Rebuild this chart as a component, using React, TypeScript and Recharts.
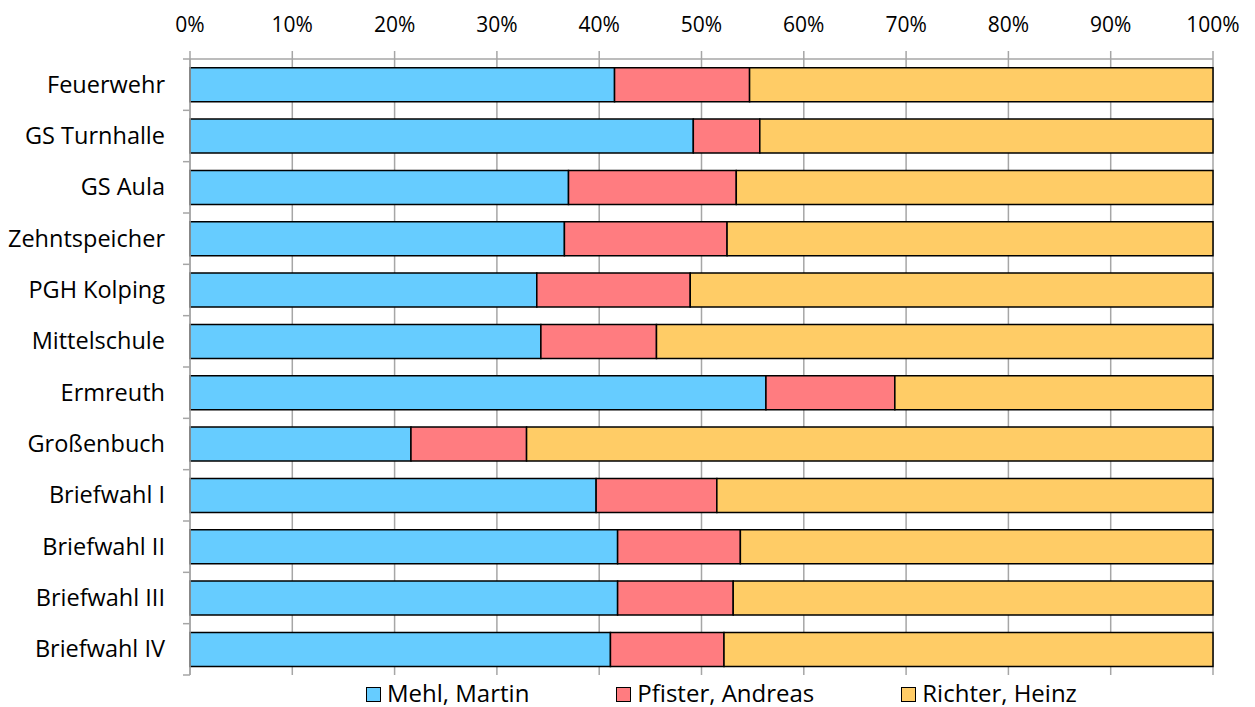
import React from 'react';
import { BarChart, Bar, XAxis, YAxis, CartesianGrid, Legend } from 'recharts';

const categories = [
  'Feuerwehr', 'GS Turnhalle', 'GS Aula', 'Zehntspeicher', 'PGH Kolping', 'Mittelschule',
  'Ermreuth', 'Großenbuch', 'Briefwahl I', 'Briefwahl II', 'Briefwahl III', 'Briefwahl IV',
];
const mehl = [41.5, 49.2, 37.0, 36.6, 33.9, 34.3, 56.3, 21.6, 39.7, 41.8, 41.8, 41.1];
const pfister = [13.2, 6.5, 16.4, 15.9, 15.0, 11.3, 12.6, 11.3, 11.8, 12.0, 11.3, 11.1];
const richter = [45.3, 44.3, 46.6, 47.5, 51.1, 54.4, 31.1, 67.1, 48.5, 46.2, 46.9, 47.8];
const xTicks = [0, 0.1, 0.2, 0.3, 0.4, 0.5, 0.6, 0.7, 0.8, 0.9, 1];

const series = [
  { key: 'mehl', name: 'Mehl, Martin', color: '#66CCFF' },
  { key: 'pfister', name: 'Pfister, Andreas', color: '#FF7C80' },
  { key: 'richter', name: 'Richter, Heinz', color: '#FFCC66' },
];

const data = categories.map((name, i) => ({
  name, mehl: mehl[i], pfister: pfister[i], richter: richter[i],
}));

const FONT = '"Open Sans", "DejaVu Sans", sans-serif';
const GRID = '#a6a6a6';

const CategoryTick = (props: any) => {
  const { x, y, payload, index } = props;
  const ax = x + 25;
  const half = payload.offset || 0;
  return (
    <g>
      <line x1={ax - 7} x2={ax} y1={y - half} y2={y - half} stroke={GRID} strokeWidth={1.5} />
      {index === categories.length - 1 && (
        <line x1={ax - 7} x2={ax} y1={y + half} y2={y + half} stroke={GRID} strokeWidth={1.5} />
      )}
      <text x={x} y={y} dy={8} textAnchor="end" fontSize={23.5} fontFamily={FONT} fill="#000">
        {payload.value}
      </text>
    </g>
  );
};

const LegendBox = () => (
  <div style={{ display: 'flex', alignItems: 'center', paddingLeft: 366, paddingTop: 4, fontFamily: FONT, fontSize: 24, lineHeight: '28px', color: '#000' }}>
    {series.map(s => (
      <div key={s.key} style={{ display: 'flex', alignItems: 'center', marginRight: 87 }}>
        <span style={{ width: 13, height: 13, background: s.color, border: '1.5px solid #000', marginRight: 6, marginTop: 2, display: 'inline-block' }} />
        <span>{s.name}</span>
      </div>
    ))}
  </div>
);

export default function App() {
  return (
    <div style={{ position: 'absolute', left: 0, top: 0, background: '#fff' }}>
      <BarChart
        width={1255}
        height={707}
        data={data}
        layout="vertical"
        stackOffset="expand"
        barCategoryGap="17%"
        margin={{ top: 0, right: 42, left: 0, bottom: 0 }}
      >
        <CartesianGrid horizontal={false} stroke={GRID} strokeWidth={1.5} />
        <XAxis
          type="number"
          orientation="top"
          domain={[0, 1]}
          ticks={xTicks}
          tickFormatter={v => `${Math.round(v * 100)}%`}
          height={59}
          tickSize={8}
          tickMargin={19}
          stroke={GRID}
          strokeWidth={1.5}
          tick={{ fontSize: 21, fontFamily: FONT, fill: '#000' }}
          interval={0}
        />
        <YAxis
          type="category"
          dataKey="name"
          width={190}
          tickSize={7}
          tickMargin={18}
          tickLine={false}
          stroke={GRID}
          strokeWidth={1.5}
          tick={<CategoryTick />}
          interval={0}
        />
        <Legend
          verticalAlign="bottom"
          content={<LegendBox />}
          wrapperStyle={{ left: 0, width: 1255, height: 32, bottom: 0 }}
        />
        {series.map(s => (
          <Bar
            key={s.key}
            dataKey={s.key}
            name={s.name}
            stackId="a"
            fill={s.color}
            stroke="#000"
            strokeWidth={1.5}
            isAnimationActive={false}
          />
        ))}
      </BarChart>
    </div>
  );
}
